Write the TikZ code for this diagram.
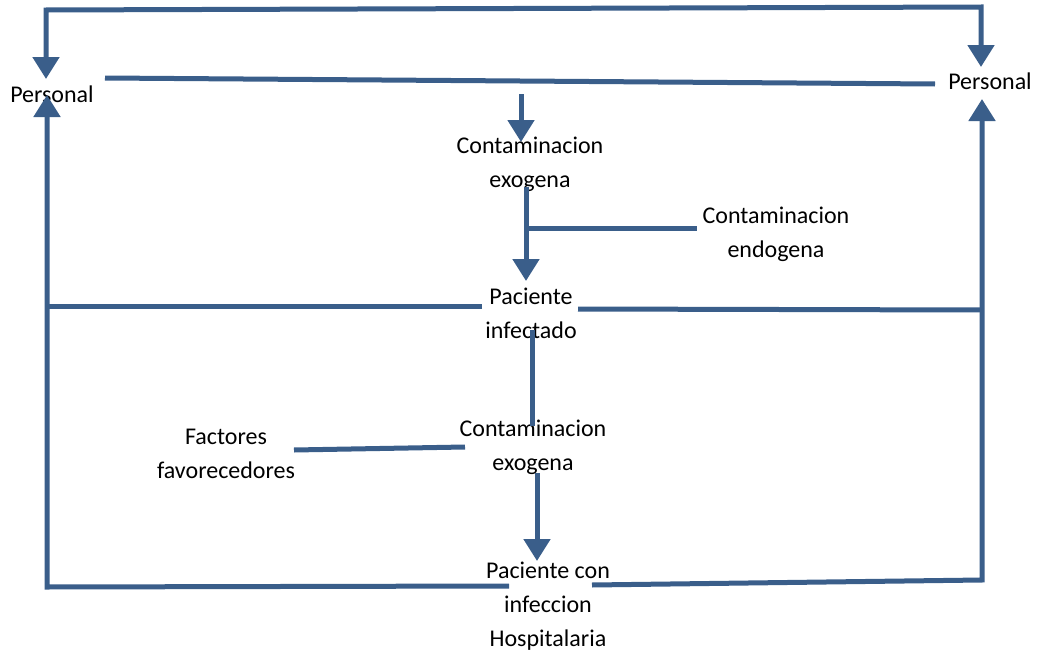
\documentclass[tikz,border=0pt]{standalone}
\usepackage{fontspec}
\setmainfont{Carlito}
\usetikzlibrary{arrows.meta}
\definecolor{flow}{RGB}{58,94,138}
\begin{document}
\begin{tikzpicture}[x=1pt,y=-1pt,
  lbl/.style={font=\fontsize{24}{34}\selectfont, align=center, inner sep=0pt, text=black},
  link/.style={draw=flow, line width=5pt, line join=miter},
  tip/.style={-{Triangle[width=26pt,length=22pt]}},
  tips/.style={{Triangle[width=26pt,length=22pt]}-{Triangle[width=26pt,length=22pt]}}]
\useasboundingbox (0,0) rectangle (1037,653);

% labels
\node[lbl] (persL) at (52,94) {Personal};
\node[lbl] (persR) at (990,81) {Personal};
\node[lbl] (exo1) at (530,164) {Contaminacion\\exogena};
\node[lbl] (endo) at (776,234) {Contaminacion\\endogena};
\node[lbl] (inf) at (531,313) {Paciente\\infectado};
\node[lbl] (fact) at (226,454) {Factores\\favorecedores};
\node[lbl] (exo2) at (533,447) {Contaminacion\\exogena};
\node[lbl] (hosp) at (548,606) {Paciente con\\infeccion\\Hospitalaria};

% fixed points of the frame
\coordinate (tl) at (46,10);
\coordinate (tr) at (981,7);
\coordinate (pLtip) at (46,79);
\coordinate (pRtip) at (981,67);
\coordinate (bl) at (47,587);
\coordinate (br) at (982,580);
\coordinate (lUp) at (47,95);
\coordinate (rUp) at (982,99);

% top loop between the two Personal labels
\draw[link,tips] (pLtip) -- (tl) -- (tr) -- (pRtip);
% Personal to Personal
\coordinate (pa) at (105,78);
\coordinate (pb) at (935,84);
\draw[link] (pa) -- (pb);

% central chain
\coordinate (c1a) at (521,94);
\coordinate (c1b) at (521,142);
\draw[link,tip] (c1a) -- (c1b);
\coordinate (c2a) at (526,187);
\coordinate (c2b) at (526,281);
\draw[link,tip] (c2a) -- (c2b);
\coordinate (c2m) at (526,228);
\coordinate (endoL) at (697,228);
\draw[link] (c2m) -- (endoL);

% infected patient to both sides
\coordinate (infL) at (482,306);
\coordinate (lMid) at (47,306);
\draw[link] (infL) -- (lMid);
\coordinate (infR) at (578,309);
\coordinate (rMid) at (982,310);
\draw[link] (infR) -- (rMid);

\coordinate (c3a) at (532,330);
\coordinate (c3b) at (532,426);
\draw[link] (c3a) -- (c3b);

\coordinate (fR) at (294,450);
\coordinate (exo2L) at (465,447);
\draw[link] (fR) -- (exo2L);

\coordinate (c4a) at (537,473);
\coordinate (c4b) at (537,561);
\draw[link,tip] (c4a) -- (c4b);

% bottom loop back to Personal
\coordinate (hL) at (509,586);
\coordinate (hR) at (592,585);
\draw[link,tip] (hL) -- (bl) -- (lUp);
\draw[link,tip] (hR) -- (br) -- (rUp);
\end{tikzpicture}
\end{document}
